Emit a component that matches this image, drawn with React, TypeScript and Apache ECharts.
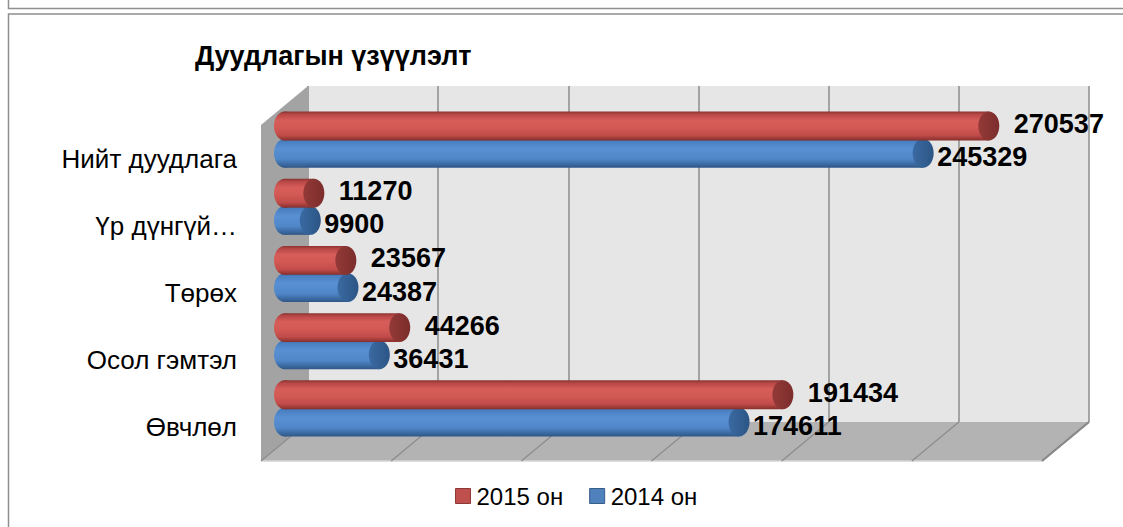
import React, { useEffect, useRef } from 'react';
import * as echarts from 'echarts';

const TITLE = 'Дуудлагын үзүүлэлт';
const categories = ['Нийт дуудлага', 'Үр дүнгүй…', 'Төрөх', 'Осол гэмтэл', 'Өвчлөл'];
const values2015 = [270537, 11270, 23567, 44266, 191434];
const values2014 = [245329, 9900, 24387, 36431, 174611];
const seriesNames = ['2015 он', '2014 он'];
const AXIS_MIN = 0;
const AXIS_MAX = 300000;
const AXIS_INTERVAL = 50000;
const gridTicks = [0, 50000, 100000, 150000, 200000, 250000, 300000];

// 3D box geometry (styling / layout only)
const BACK = { left: 308, top: 86, width: 781, height: 336 };
const DEPTH = { dx: -47, dy: 39 };
const FONT = '"Liberation Sans", Arial, sans-serif';

const RED = {
  base: '#c0504d',
  border: '#8c3836',
  body: [
    [0, '#8a3331'],
    [0.1, '#b84846'],
    [0.3, '#d75d5a'],
    [0.55, '#d35955'],
    [0.82, '#c14c49'],
    [1, '#872f2d'],
  ],
  cap: ['#933a38', '#7c2d2c'],
};
const BLUE = {
  base: '#4f81bd',
  border: '#385d8a',
  body: [
    [0, '#36639a'],
    [0.1, '#4a80c2'],
    [0.35, '#5890d3'],
    [0.7, '#4f87c9'],
    [1, '#2f5787'],
  ],
  cap: ['#3a6aa2', '#2c5585'],
};

function grad(stops: any[], horizontal = false) {
  return new echarts.graphic.LinearGradient(
    0,
    0,
    horizontal ? 1 : 0,
    horizontal ? 0 : 1,
    stops.map(([offset, color]: any) => ({ offset, color }))
  );
}

function makeCylinderSeries(name: string, values: number[], pal: any, centerOff: number, labelDx: number, labelDy: number, z: number) {
  return {
    type: 'custom',
    name,
    xAxisIndex: 1,
    yAxisIndex: 1,
    z,
    silent: true,
    itemStyle: { color: pal.base, borderColor: pal.border, borderWidth: 1 },
    encode: { x: 0, y: 1 },
    data: values.map((v, i) => [v, i]),
    renderItem: (params: any, api: any) => {
      const v = api.value(0);
      const ci = api.value(1);
      const start = api.coord([0, ci]);
      const end = api.coord([v, ci]);
      const band = api.size([0, 1])[1];
      const h = band * 0.43;
      const cy = start[1] + band * centerOff;
      const rx = 10.5;
      const ry = h / 2;
      return {
        type: 'group',
        children: [
          {
            type: 'ellipse',
            shape: { cx: start[0], cy, rx, ry },
            style: { fill: grad(pal.body) },
          },
          {
            type: 'rect',
            shape: { x: start[0], y: cy - ry, width: Math.max(0, end[0] - start[0]), height: h },
            style: { fill: grad(pal.body) },
          },
          {
            type: 'ellipse',
            shape: { cx: end[0], cy, rx, ry },
            style: { fill: grad([[0, pal.cap[0]], [1, pal.cap[1]]], true) },
          },
          {
            type: 'text',
            z2: 100,
            style: {
              text: String(v),
              x: end[0] + labelDx,
              y: cy + labelDy,
              fill: '#000',
              font: `bold 27px ${FONT}`,
              textAlign: 'left',
              textVerticalAlign: 'middle',
            },
          },
        ],
      };
    },
  };
}

export default function App() {
  const ref = useRef<HTMLDivElement>(null);

  useEffect(() => {
    if (!ref.current) return;
    const chart = echarts.init(ref.current, null, { renderer: 'svg' });

    const midLeft = BACK.left + DEPTH.dx / 2;
    const midTop = BACK.top + DEPTH.dy / 2;
    const frontLeft = BACK.left + DEPTH.dx;
    const frontTop = BACK.top + DEPTH.dy;

    const option: any = {
      animation: false,
      backgroundColor: '#ffffff',
      title: {
        text: TITLE,
        left: 195,
        top: 42,
        padding: 0,
        textStyle: { fontFamily: FONT, fontSize: 27, fontWeight: 'bold', color: '#000' },
      },
      legend: {
        data: [
          { name: seriesNames[0], itemStyle: { color: RED.base, borderColor: RED.border, borderWidth: 1 } },
          { name: seriesNames[1], itemStyle: { color: BLUE.base, borderColor: BLUE.border, borderWidth: 1 } },
        ],
        icon: 'rect',
        left: 455,
        top: 484,
        padding: 0,
        itemWidth: 15,
        itemHeight: 15,
        itemGap: 26,
        selectedMode: false,
        textStyle: { fontFamily: FONT, fontSize: 24, color: '#000', padding: [0, 0, 0, 1] },
      },
      graphic: [
        {
          type: 'rect',
          silent: true,
          shape: { x: 8.5, y: -20, width: 1200, height: 28.5 },
          style: { fill: 'none', stroke: '#8f8f8f', lineWidth: 1.5 },
        },
        {
          type: 'rect',
          silent: true,
          shape: { x: 8.5, y: 14, width: 1200, height: 600 },
          style: { fill: 'none', stroke: '#8f8f8f', lineWidth: 1.5 },
        },
      ],
      grid: [
        {
          left: BACK.left,
          top: BACK.top,
          width: BACK.width,
          height: BACK.height,
          show: true,
          backgroundColor: '#e6e6e6',
          borderWidth: 0,
          containLabel: false,
        },
        {
          left: midLeft,
          top: midTop,
          width: BACK.width,
          height: BACK.height,
          containLabel: false,
        },
        {
          left: frontLeft,
          top: frontTop,
          width: BACK.width,
          height: BACK.height,
          containLabel: false,
        },
      ],
      xAxis: [
        {
          type: 'value',
          gridIndex: 0,
          min: AXIS_MIN,
          max: AXIS_MAX,
          interval: AXIS_INTERVAL,
          axisLabel: { show: false },
          axisLine: { show: false },
          axisTick: { show: false },
          splitLine: { show: true, lineStyle: { color: '#8c8c8c', width: 1.5 } },
        },
        {
          type: 'value',
          gridIndex: 1,
          min: AXIS_MIN,
          max: AXIS_MAX,
          interval: AXIS_INTERVAL,
          show: false,
        },
        {
          type: 'value',
          gridIndex: 2,
          min: AXIS_MIN,
          max: AXIS_MAX,
          interval: AXIS_INTERVAL,
          show: false,
        },
      ],
      yAxis: [
        {
          type: 'value',
          gridIndex: 0,
          min: 0,
          max: 1,
          show: false,
        },
        {
          type: 'category',
          gridIndex: 1,
          data: categories,
          inverse: true,
          show: false,
        },
        {
          type: 'category',
          gridIndex: 2,
          data: categories,
          inverse: true,
          axisLine: { show: false },
          axisTick: { show: false },
          splitLine: { show: false },
          axisLabel: {
            show: true,
            margin: 24,
            fontFamily: FONT,
            fontSize: 26,
            color: '#000',
          },
        },
      ],
      series: [
        {
          type: 'custom',
          name: 'walls',
          xAxisIndex: 0,
          yAxisIndex: 0,
          silent: true,
          z: 1,
          data: [[0, 0]],
          renderItem: (params: any, api: any) => {
            const p0 = api.coord([AXIS_MIN, 0]);
            const p1 = api.coord([AXIS_MAX, 0]);
            const t0 = api.coord([AXIS_MIN, 1]);
            const d = (p: number[]) => [p[0] + DEPTH.dx, p[1] + DEPTH.dy];
            return {
              type: 'group',
              children: [
                {
                  type: 'polygon',
                  shape: { points: [p0, p1, d(p1), d(p0)] },
                  style: { fill: '#b3b3b3' },
                },
                {
                  type: 'polygon',
                  shape: { points: [t0, p0, d(p0), d(t0)] },
                  style: { fill: '#a3a3a3' },
                },
                {
                  type: 'line',
                  shape: { x1: d(p0)[0], y1: d(p0)[1], x2: d(p1)[0], y2: d(p1)[1] },
                  style: { stroke: '#d4d4d4', lineWidth: 1.5 },
                },
                {
                  type: 'line',
                  shape: { x1: p1[0], y1: p1[1], x2: d(p1)[0], y2: d(p1)[1] },
                  style: { stroke: '#7f7f7f', lineWidth: 2 },
                },
              ],
            };
          },
        },
        {
          type: 'custom',
          name: 'floorLines',
          xAxisIndex: 0,
          yAxisIndex: 0,
          silent: true,
          z: 1,
          data: gridTicks.map((t) => [t, 0]),
          renderItem: (params: any, api: any) => {
            const p = api.coord([api.value(0), 0]);
            return {
              type: 'line',
              shape: { x1: p[0], y1: p[1], x2: p[0] + DEPTH.dx, y2: p[1] + DEPTH.dy },
              style: { stroke: '#8c8c8c', lineWidth: 1.2 },
            };
          },
        },
        makeCylinderSeries(seriesNames[1], values2014, BLUE, 0.21, 14, 4, 3),
        makeCylinderSeries(seriesNames[0], values2015, RED, -0.195, 25, -2, 4),
      ],
    };

    chart.setOption(option);
    return () => chart.dispose();
  }, []);

  return (
    <div
      ref={ref}
      style={{ position: 'fixed', left: 0, top: 0, width: 1123, height: 527 }}
    />
  );
}
